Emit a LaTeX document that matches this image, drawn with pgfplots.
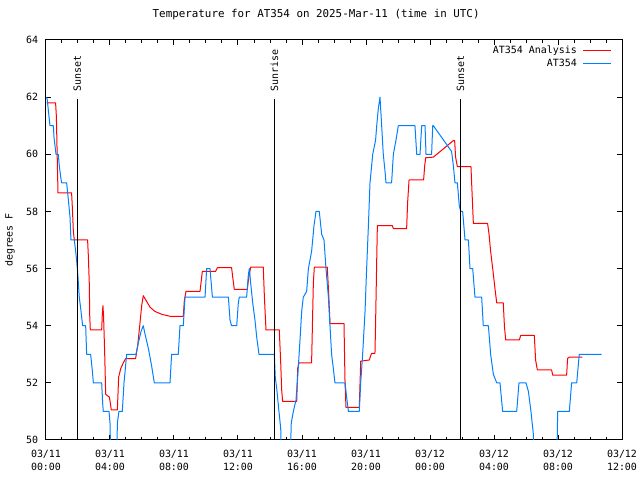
\documentclass[border=0pt]{standalone}
\usepackage{fontspec}
\setmainfont{DejaVu Sans Mono}
\usepackage{pgfplots}
\pgfplotsset{compat=1.18}
\definecolor{myred}{RGB}{255,0,0}
\definecolor{myblue}{RGB}{0,128,255}
\begin{document}
\begin{tikzpicture}
\path[use as bounding box] (-46bp,-40bp) rectangle (594bp,440bp);
\begin{axis}[
  scale only axis, width=576bp, height=400bp,
  at={(0,0)}, anchor=south west,
  xmin=0, xmax=36, ymin=50, ymax=64,
  xtick={0,4,...,36},
  xticklabels={{03/11\\00:00},{03/11\\04:00},{03/11\\08:00},{03/11\\12:00},{03/11\\16:00},{03/11\\20:00},{03/12\\00:00},{03/12\\04:00},{03/12\\08:00},{03/12\\12:00}},
  minor x tick num=3,
  ytick={50,52,...,64},
  tick align=inside,
  major tick length=5bp, minor tick length=3bp,
  axis line style={line width=1bp, black},
  tick style={line width=1bp, black},
  /pgf/number format/assume math mode=true,
  ticklabel style={font=\fontsize{10}{13}\selectfont},
  xticklabel style={align=center, yshift=-6.5bp},
  yticklabel style={xshift=-4.3bp},
  title={Temperature for AT354 on 2025-Mar-11 (time in UTC)},
  title style={at={(axis description cs:0.469,1.049)}, anchor=center, font=\fontsize{10.9}{13}\selectfont},
  ylabel={degrees F},
  ylabel style={at={(axis description cs:-0.0625,0.5)}, anchor=center, rotate=0, font=\fontsize{10}{12}\selectfont},
  legend plot pos=right,
  legend cell align=right,
  legend style={draw=none, fill=none, at={(axis description cs:1,1)}, anchor=north east,
    xshift=-10.5bp, yshift=-4bp, inner sep=0pt, column sep=4bp, row sep=0pt,
    font=\fontsize{10}{12}\selectfont,
    nodes={inner sep=1.5bp, text height=7.5bp, text depth=2.5bp}},
  legend image code/.code={\draw[#1] (0bp,0bp) -- (28bp,0bp);},
  every axis plot/.append style={line width=1bp, line join=round},
]
\addplot[myred, mark=none] coordinates {
(0.04,61.8)(0.6,61.8)(0.65,61.3)(0.69,60.2)(0.75,58.65)(1.6,58.65)(1.65,58.1)(1.71,57.3)(1.77,57.0)(2.6,57.0)(2.65,56.4)(2.71,55.4)(2.73,54.4)(2.77,53.85)(3.48,53.85)(3.52,54.4)(3.56,54.7)(3.6,54.3)(3.67,53.0)(3.73,51.6)(3.96,51.5)(4.02,51.3)(4.08,51.05)(4.46,51.05)(4.54,52.2)(4.67,52.5)(4.83,52.7)(4.98,52.85)(5.6,52.85)(5.73,53.3)(5.875,54.1)(5.98,54.7)(6.08,55.05)(6.29,54.85)(6.5,54.65)(6.81,54.5)(7.23,54.4)(7.75,54.33)(8.58,54.33)(8.65,54.9)(8.75,55.2)(9.625,55.2)(9.71,55.6)(9.77,55.9)(10.6,55.9)(10.71,56.03)(11.6,56.03)(11.67,55.7)(11.77,55.27)(12.58,55.27)(12.65,55.6)(12.79,56.05)(13.58,56.05)(13.65,55.0)(13.75,53.85)(14.58,53.85)(14.67,52.7)(14.73,51.75)(14.79,51.35)(15.67,51.35)(15.73,52.5)(15.81,52.7)(16.6,52.7)(16.67,54.5)(16.71,55.5)(16.77,56.05)(17.58,56.05)(17.67,55.1)(17.75,54.07)(18.625,54.07)(18.69,52.0)(18.75,51.14)(19.58,51.14)(19.67,52.76)(20.21,52.8)(20.29,52.95)(20.35,53.03)(20.56,53.03)(20.6,54.1)(20.67,56.3)(20.71,57.5)(21.65,57.5)(21.71,57.4)(22.54,57.4)(22.6,58.3)(22.69,59.1)(23.6,59.1)(23.67,59.6)(23.73,59.88)(24.21,59.9)(25.46,60.48)(25.54,60.48)(25.6,59.9)(25.71,59.57)(26.56,59.57)(26.625,58.7)(26.71,57.58)(27.6,57.58)(27.69,57.2)(27.79,56.6)(27.92,56.0)(28.06,55.3)(28.17,54.8)(28.58,54.8)(28.65,54.0)(28.73,53.5)(29.58,53.5)(29.67,53.66)(30.52,53.66)(30.6,52.8)(30.71,52.45)(31.6,52.45)(31.67,52.27)(32.54,52.27)(32.6,52.86)(32.71,52.9)(33.52,52.9)
};
\addlegendentry{AT354 Analysis}
\addplot[myblue, mark=none] coordinates {
(0.04,62.0)(0.08,61.9)(0.21,61.2)(0.25,61.0)(0.46,61.0)(0.5,60.6)(0.625,60.0)(0.77,60.0)(0.83,59.6)(0.92,59.2)(0.98,59.0)(1.29,59.0)(1.4,58.4)(1.5,57.8)(1.56,57.0)(1.77,57.0)(1.875,56.5)(1.96,56.0)(2.0,55.7)(2.08,55.0)(2.19,54.5)(2.29,54.0)(2.48,54.0)(2.54,53.0)(2.79,53.0)(2.9,52.4)(2.96,52.0)(3.48,52.0)(3.54,51.3)(3.58,51.0)(3.94,51.0)(4.0,50.6)(4.06,49.0)(4.42,49.0)(4.46,50.6)(4.56,51.0)(4.77,51.0)(4.875,52.0)(4.96,52.5)(5.04,53.0)(5.625,53.0)(5.77,53.4)(5.94,53.8)(6.08,54.0)(6.19,53.7)(6.4,53.2)(6.6,52.6)(6.77,52.0)(7.75,52.0)(7.85,53.0)(8.27,53.0)(8.375,54.0)(8.58,54.0)(8.69,55.0)(9.94,55.0)(10.04,56.0)(10.25,56.0)(10.4,55.0)(11.4,55.0)(11.5,54.2)(11.6,54.0)(11.92,54.0)(12.02,54.8)(12.08,55.0)(12.54,55.0)(12.65,55.8)(12.71,56.0)(12.79,55.5)(12.92,54.8)(13.06,54.2)(13.17,53.6)(13.31,53.0)(14.27,53.0)(14.33,52.2)(14.42,51.8)(14.56,51.0)(14.67,50.4)(14.73,49.0)(15.25,49.0)(15.33,50.6)(15.46,51.0)(15.625,51.4)(15.73,52.2)(15.875,53.5)(15.98,54.5)(16.08,55.0)(16.29,55.2)(16.4,56.0)(16.6,56.6)(16.75,57.5)(16.875,58.0)(17.08,58.0)(17.23,57.2)(17.375,57.0)(17.5,56.0)(17.65,55.0)(17.75,54.0)(17.85,53.0)(17.96,52.5)(18.06,52.0)(18.69,52.0)(18.79,51.5)(18.9,51.0)(19.58,51.0)(19.67,52.0)(19.79,53.0)(19.94,54.5)(20.04,56.0)(20.15,57.5)(20.25,59.0)(20.42,60.0)(20.6,60.5)(20.67,61.0)(20.77,61.6)(20.875,62.0)(20.98,61.0)(21.08,60.0)(21.19,59.4)(21.25,59.0)(21.6,59.0)(21.71,60.0)(21.875,60.5)(22.02,61.0)(23.06,61.0)(23.17,60.0)(23.375,60.0)(23.48,61.0)(23.69,61.0)(23.75,60.0)(24.1,60.0)(24.17,61.0)(24.21,61.0)(25.35,60.1)(25.46,59.6)(25.56,59.0)(25.71,59.0)(25.83,58.2)(25.92,58.0)(26.04,58.0)(26.19,57.0)(26.4,57.0)(26.5,56.0)(26.67,56.0)(26.81,55.0)(27.23,55.0)(27.33,54.0)(27.65,54.0)(27.79,53.0)(27.96,52.3)(28.17,52.0)(28.375,52.0)(28.54,51.0)(29.42,51.0)(29.56,52.0)(30.0,52.0)(30.15,51.7)(30.31,51.0)(30.46,50.2)(30.52,49.0)(31.92,49.0)(31.98,51.0)(32.71,51.0)(32.85,52.0)(33.17,52.0)(33.33,53.0)(34.73,53.0)
};
\addlegendentry{AT354}
\addplot[black, mark=none, forget plot] coordinates {(1.96,50)(1.96,61.92)}
  node[pos=1, rotate=90, anchor=west, inner xsep=7bp, inner ysep=0pt, font=\fontsize{10}{12}\selectfont] {Sunset};
\addplot[black, mark=none, forget plot] coordinates {(14.27,50)(14.27,61.92)}
  node[pos=1, rotate=90, anchor=west, inner xsep=7bp, inner ysep=0pt, font=\fontsize{10}{12}\selectfont] {Sunrise};
\addplot[black, mark=none, forget plot] coordinates {(25.9,50)(25.9,61.92)}
  node[pos=1, rotate=90, anchor=west, inner xsep=7bp, inner ysep=0pt, font=\fontsize{10}{12}\selectfont] {Sunset};
\end{axis}
\end{tikzpicture}
\end{document}
